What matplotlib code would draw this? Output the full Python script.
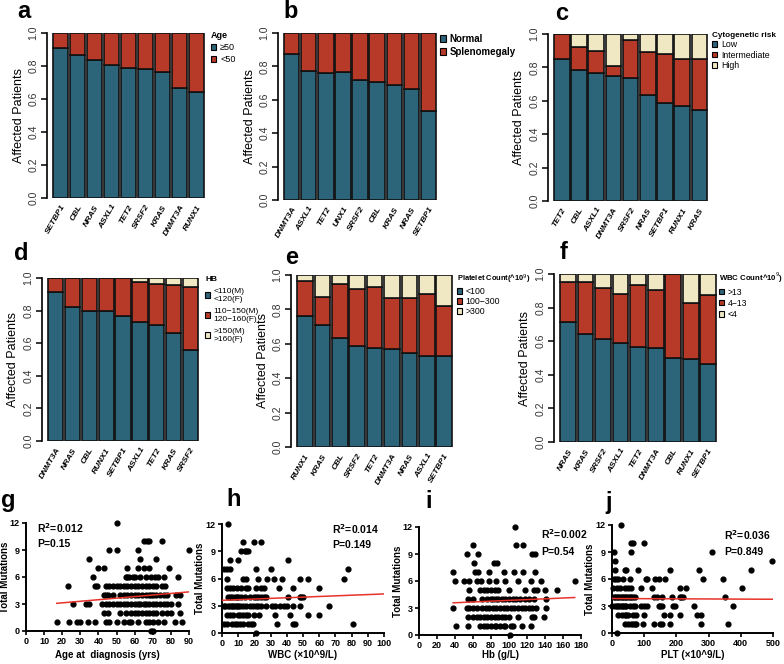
import matplotlib
matplotlib.use("Agg")
import matplotlib.pyplot as plt
from matplotlib.patches import Patch
import numpy as np

plt.rcParams['font.family'] = ['Liberation Sans', 'DejaVu Sans']

W, H = 784, 664
BLUE = '#2c6479'
RED = '#b73a29'
CREAM = '#efe8c3'

# ---- bar panel data (fractions of affected patients) ----
genes_a = ['SETBP1', 'CBL', 'NRAS', 'ASXL1', 'TET2', 'SRSF2', 'KRAS', 'DNMT3A', 'RUNX1']
age_ge50 = [0.909, 0.866, 0.836, 0.805, 0.787, 0.783, 0.761, 0.669, 0.645]

genes_b = ['DNMT3A', 'ASXL1', 'TET2', 'UNX1', 'SRSF2', 'CBL', 'KRAS', 'NRAS', 'SETBP1']
spleen_normal = [0.876, 0.772, 0.762, 0.764, 0.716, 0.704, 0.688, 0.666, 0.532]

genes_c = ['TET2', 'CBL', 'ASXL1', 'DNMT3A', 'SRSF2', 'NRAS', 'SETBP1', 'RUNX1', 'KRAS']
cyto_low = [0.852, 0.784, 0.764, 0.746, 0.739, 0.635, 0.585, 0.567, 0.545]
cyto_int = [0.148, 0.140, 0.134, 0.062, 0.227, 0.255, 0.295, 0.285, 0.303]

genes_d = ['DNMT3A', 'NRAS', 'CBL', 'RUNX1', 'SETBP1', 'ASXL1', 'TET2', 'KRAS', 'SRSF2']
hb_low = [0.914, 0.820, 0.798, 0.800, 0.765, 0.733, 0.714, 0.665, 0.561]
hb_mid = [0.086, 0.180, 0.202, 0.200, 0.235, 0.245, 0.249, 0.294, 0.386]

genes_e = ['RUNX1', 'KRAS', 'CBL', 'SRSF2', 'TET2', 'DNMT3A', 'NRAS', 'ASXL1', 'SETBP1']
plt_low = [0.763, 0.707, 0.631, 0.590, 0.573, 0.567, 0.544, 0.530, 0.530]
plt_mid = [0.200, 0.167, 0.315, 0.330, 0.355, 0.301, 0.324, 0.361, 0.291]

genes_f = ['NRAS', 'KRAS', 'SRSF2', 'ASXL1', 'TET2', 'DNMT3A', 'CBL', 'RUNX1', 'SETBP1']
wbc_high = [0.713, 0.645, 0.612, 0.592, 0.566, 0.560, 0.500, 0.496, 0.466]
wbc_mid = [0.237, 0.305, 0.304, 0.288, 0.370, 0.346, 0.500, 0.331, 0.407]

# ---- scatter data: total mutations by row (y value -> x values) ----
age_pts = {
    0: [69, 70],
    1: [17, 24, 28, 30, 34, 38, 44, 46, 50, 54, 57, 58, 62, 66, 68, 70, 73, 76, 82, 86],
    2: [43, 45, 52, 55, 58, 60, 62, 64, 66, 68, 70, 72, 75, 78, 80, 85],
    3: [26, 33, 35, 42, 44, 46, 48, 50, 52, 54, 56, 58, 60, 62, 63, 65, 66, 68, 70, 72, 74, 76, 78, 80, 84],
    4: [43, 44, 45, 48, 52, 54, 56, 58, 60, 62, 64, 66, 68, 69, 70, 72, 74, 76, 78, 83, 85],
    5: [23, 38, 39, 44, 46, 48, 50, 52, 54, 56, 58, 60, 62, 64, 66, 68, 70, 72, 75, 77],
    6: [37, 55, 56, 57, 59, 60, 63, 66, 69, 71, 73, 76, 84],
    7: [40, 43, 56, 62, 65, 68, 79],
    8: [35, 63, 72],
    9: [46, 50, 62, 90],
    10: [65, 67, 68, 75],
    12: [50],
}
wbc_pts = {
    0: [21],
    1: [1, 3, 6, 8, 9, 11, 13, 16, 18, 19, 34, 44, 45, 81],
    2: [3, 5, 7, 10, 11, 13, 15, 16, 20, 23, 33, 42, 53, 60],
    3: [1, 2, 4, 5, 6, 7, 8, 9, 10, 11, 13, 15, 17, 19, 21, 22, 24, 27, 31, 33, 36, 38, 40, 44, 48, 66],
    4: [4, 5, 6, 8, 9, 10, 12, 14, 17, 20, 21, 22, 24, 26, 27, 41, 48, 49, 50],
    5: [3, 5, 7, 9, 12, 15, 16, 21, 24, 26, 35, 44, 60],
    6: [3, 13, 15, 22, 28, 32, 37, 48, 53, 75],
    7: [1, 3, 5, 21, 30, 78],
    8: [5, 10, 41],
    9: [12, 14, 15, 16],
    10: [13, 20, 24],
    12: [4],
}
hb_pts = {
    0: [101],
    1: [41, 54, 68, 72, 76, 80, 84, 86, 90, 94, 96, 102, 104, 114, 124],
    2: [54, 60, 64, 68, 72, 76, 80, 84, 88, 92, 96, 100, 110, 126, 128, 139],
    3: [38, 53, 56, 60, 64, 70, 74, 78, 82, 86, 90, 94, 98, 102, 106, 110, 114, 118, 122, 126, 130, 141],
    4: [54, 60, 70, 76, 80, 82, 85, 88, 92, 96, 100, 104, 108, 112, 118, 122, 128, 141],
    5: [56, 68, 72, 76, 80, 84, 88, 100, 118, 128, 131, 140, 153],
    6: [40, 50, 56, 64, 69, 78, 86, 96, 110, 124, 135, 173],
    7: [38, 62, 66, 78, 94, 106, 115, 129],
    8: [61, 83, 87],
    9: [53, 66, 125, 129],
    10: [60, 108, 115],
    12: [107],
}
plt_pts = {
    0: [17],
    1: [40, 50, 60, 65, 70, 75, 95, 130, 150, 155, 180, 275, 360],
    2: [20, 30, 40, 45, 50, 65, 75, 100, 160, 180, 210, 265, 275],
    3: [0, 10, 15, 20, 25, 30, 35, 40, 45, 55, 65, 70, 90, 100, 110, 145, 150, 155, 190, 195, 255, 375],
    4: [5, 10, 15, 20, 25, 30, 35, 40, 45, 50, 55, 60, 65, 70, 130, 140, 155, 185, 210, 215, 220, 350],
    5: [2, 15, 25, 40, 50, 60, 90, 125, 210, 230, 405],
    6: [5, 12, 20, 35, 55, 105, 110, 135, 145, 165, 282, 345],
    7: [10, 40, 45, 80, 180, 270, 432],
    8: [10, 498],
    9: [5, 60, 310],
    10: [60, 65, 100],
    12: [27],
}
# regression lines: (intercept, slope, x start, x end)
fit_g = (2.78, 0.0174, 17, 90)
fit_h = (3.60, 0.0070, 0, 100)
fit_i = (3.41, 0.00437, 38, 173)
fit_j = (3.83, -0.00016, 0, 500)


def px_rect(left, right, top, bottom):
    return [left / W, 1 - bottom / H, (right - left) / W, (bottom - top) / H]


def bar_panel(fig, rect, genes, layers, colors):
    ax = fig.add_axes(rect)
    x = np.arange(len(genes))
    base = np.zeros(len(genes))
    for vals, c in zip(layers, colors):
        ax.bar(x, vals, bottom=base, width=0.9, color=c, edgecolor='#111111', linewidth=1.2)
        base = base + np.array(vals)
    ax.set_xlim(-0.8, len(genes) - 0.5)
    ax.set_ylim(0, 1)
    for s in ['top', 'right', 'bottom']:
        ax.spines[s].set_visible(False)
    ax.spines['left'].set_linewidth(1.2)
    ax.set_yticks(np.arange(0, 1.01, 0.2))
    ax.set_yticklabels(['%.1f' % v for v in np.arange(0, 1.01, 0.2)], rotation=90,
                       va='center', fontsize=7.5, color='#333333')
    ax.tick_params(axis='y', length=4, width=1.1, pad=2)
    ax.set_xticks(x)
    ax.set_xticklabels(genes, rotation=60, ha='right', rotation_mode='anchor',
                       fontsize=6, fontweight='bold', fontstyle='italic')
    ax.tick_params(axis='x', length=0, pad=4)
    ax.set_ylabel('Affected Patients', fontsize=9, labelpad=3)
    return ax


def add_legend(fig, xpx, ypx, labels, colors, title=None, bold=False, spacing=0.35,
               size=6.5, title_size=None):
    handles = [Patch(facecolor=c, edgecolor='black', linewidth=0.8) for c in colors]
    leg = fig.legend(handles, labels, loc='upper left', bbox_to_anchor=(xpx / W, 1 - ypx / H),
                     frameon=False, title=title, handlelength=0.6, handleheight=0.6,
                     handletextpad=0.4, labelspacing=spacing, borderaxespad=0, borderpad=0,
                     alignment='left',
                     prop={'size': size, 'weight': 'bold' if bold else 'normal'})
    if title:
        leg.get_title().set_fontweight('bold')
        leg.get_title().set_fontsize(title_size or size)
    return leg


def scatter_panel(fig, px, pts, fit, xmax, xstep, xlabel, r2, p, txt_x, txt_y, p_y, ylab_px):
    left, right, top, bottom = px
    ax = fig.add_axes(px_rect(left, right, top, bottom))
    xs, ys = [], []
    for yv, xv in pts.items():
        xs += xv
        ys += [yv] * len(xv)
    ax.scatter(xs, ys, s=12, color='black', clip_on=False, zorder=3)
    b0, b1, x0, x1 = fit
    lx = np.array([x0, x1])
    ax.plot(lx, b0 + b1 * lx, color='#e8322a', lw=1.1, zorder=4)
    ax.set_xlim(0, xmax)
    ax.set_ylim(0, 12)
    ax.set_xticks(np.arange(0, xmax + 0.1, xstep))
    ax.set_yticks([0, 3, 6, 9, 12])
    for s in ['top', 'right']:
        ax.spines[s].set_visible(False)
    for s in ['left', 'bottom']:
        ax.spines[s].set_linewidth(1.4)
    ax.tick_params(length=3, width=1.2, labelsize=6.5, pad=1.5)
    for lab in ax.get_xticklabels() + ax.get_yticklabels():
        lab.set_fontweight('bold')
    ax.set_xlabel(xlabel, fontsize=7, fontweight='bold')
    ax.set_ylabel('Total Mutations', fontsize=7, fontweight='bold')
    # label placement in figure pixels
    ax.xaxis.set_label_coords(0.5, (bottom - 650) / (bottom - top))
    ax.yaxis.set_label_coords((ylab_px - left) / (right - left), 0.5)
    ax.text(txt_x, txt_y, 'R$^\\mathbf{2}$=' + r2, fontsize=7.5, fontweight='bold', va='center')
    ax.text(txt_x, p_y, 'P=' + p, fontsize=7.5, fontweight='bold', va='center')
    return ax


fig = plt.figure(figsize=(W / 100, H / 100), dpi=100)

# a
bar_panel(fig, px_rect(47, 205, 33, 198), genes_a,
          [age_ge50, [1 - v for v in age_ge50]], [BLUE, RED])
add_legend(fig, 211, 31, ['\u226550', '<50'], [BLUE, RED], title='Age')

# b
bar_panel(fig, px_rect(278, 437, 33, 200), genes_b,
          [spleen_normal, [1 - v for v in spleen_normal]], [BLUE, RED])
add_legend(fig, 440, 34, ['Normal', 'Splenomegaly'], [BLUE, RED], bold=True, spacing=0.3,
           size=7)

# c
bar_panel(fig, px_rect(548, 708, 34, 201), genes_c,
          [cyto_low, cyto_int, [1 - a - b for a, b in zip(cyto_low, cyto_int)]], [BLUE, RED, CREAM])
add_legend(fig, 712, 32, ['Low', 'Intermediate', 'High'], [BLUE, RED, CREAM],
           title='Cytogenetic risk', spacing=0.15, size=6.3, title_size=5.9)

# d
bar_panel(fig, px_rect(42, 199, 278, 441), genes_d,
          [hb_low, hb_mid, [1 - a - b for a, b in zip(hb_low, hb_mid)]], [BLUE, RED, CREAM])
add_legend(fig, 205, 276, ['<110(M)\n<120(F)', '110\u2212150(M)\n120\u2212160(F)', '>150(M)\n>160(F)'],
           [BLUE, RED, CREAM], title='HB', spacing=0.6, size=6)

# e
bar_panel(fig, px_rect(291, 453, 275, 447), genes_e,
          [plt_low, plt_mid, [1 - a - b for a, b in zip(plt_low, plt_mid)]], [BLUE, RED, CREAM])
add_legend(fig, 457, 273, ['<100', '100\u2212300', '>300'], [BLUE, RED, CREAM],
           title='Platelet Count(^10$^{9}$)', spacing=0.1, size=6.3, title_size=5.4)

# f
bar_panel(fig, px_rect(554, 717, 274, 442), genes_f,
          [wbc_high, wbc_mid, [1 - a - b for a, b in zip(wbc_high, wbc_mid)]], [BLUE, RED, CREAM])
add_legend(fig, 719, 271, ['>13', '4\u221213', '<4'], [BLUE, RED, CREAM],
           title='WBC Count^10$^{9}$)', spacing=0.25, size=6.2, title_size=5.6)

# g-j
scatter_panel(fig, (26, 189, 523, 631), age_pts, fit_g, 90, 10,
              'Age at  diagnosis (yrs)', '0.012', '0.15', 6, 11.4, 9.7, 10)
scatter_panel(fig, (222, 384, 524, 633), wbc_pts, fit_h, 100, 10,
              'WBC (\u00d710^9/L)', '0.014', '0.149', 68, 11.4, 9.7, 205)
scatter_panel(fig, (419, 581, 527, 635), hb_pts, fit_i, 180, 20,
              'Hb (g/L)', '0.002', '0.54', 136, 11.2, 9.2, 403)
scatter_panel(fig, (612, 773, 525, 633), plt_pts, fit_j, 500, 100,
              'PLT (\u00d710^9/L)', '0.036', '0.849', 348, 10.9, 9.0, 595)

# panel letters
letters = ['a', 'b', 'c', 'd', 'e', 'f', 'g', 'h', 'i', 'j']
letter_pos = [(24, 12), (291, 12), (562, 13), (21, 254), (292, 258), (564, 252),
              (8, 500), (234, 500), (429, 502), (609, 502)]
for l, (lx, ly) in zip(letters, letter_pos):
    fig.text(lx / W, 1 - ly / H, l, fontsize=17, fontweight='bold', ha='center', va='center')

fig.savefig('out.png', dpi=100)
